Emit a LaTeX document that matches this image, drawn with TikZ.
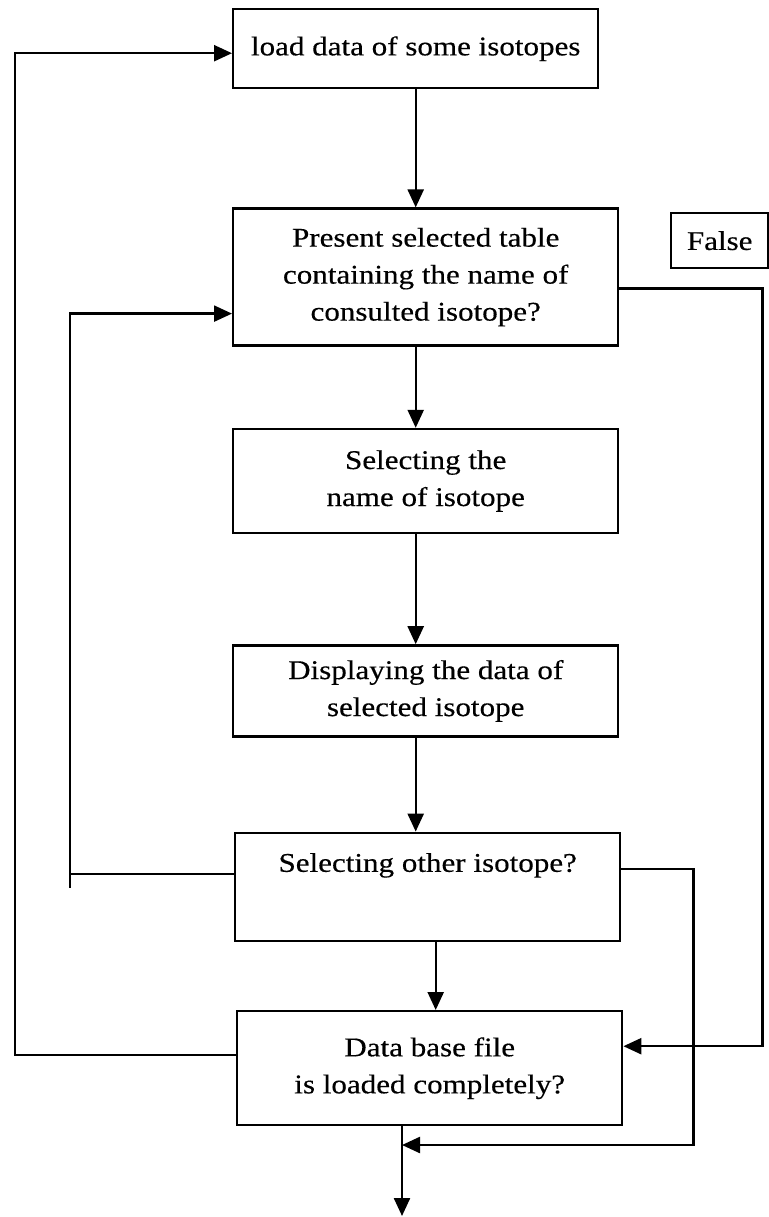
\documentclass[tikz,border=0pt]{standalone}
\usepackage{fontspec}
\setmainfont{Liberation Serif}[FakeStretch=1.15,FakeBold=0.4]
\usetikzlibrary{positioning,arrows.meta}

\begin{document}
\begin{tikzpicture}[x=0.5pt,y=-0.5pt,
        stage/.style={draw, line width=1.2pt, minimum width=192.5pt, align=center,
          inner sep=2pt, font=\fontsize{13.5}{18.5}\selectfont},
        flow/.style={line width=1.2pt, -{Triangle[length=9pt,width=8pt]}},
        wire/.style={line width=1.2pt}]
  \useasboundingbox (0,0) rectangle (769,1217);
  \node[stage, anchor=north west, minimum width=182.5pt, minimum height=39.5pt] (box1) at (232,8) {load data of some isotopes};
  \node[stage, below=59pt of box1.south west, anchor=north west, minimum height=68.5pt] (box2) {Present selected table\\containing the name of\\consulted isotope?};
  \node[stage, below=40.5pt of box2.south west, anchor=north west, minimum height=52pt] (box3) {Selecting the\\name of isotope};
  \node[stage, below=55pt of box3.south west, anchor=north west, minimum height=45.5pt] (box4) {Displaying the data of\\selected isotope};
  \node[stage, below=47pt of box4.south west, anchor=north west, xshift=1pt, inner ysep=0pt,
        text height=19.5pt, text depth=34.5pt] (box5) {Selecting other isotope?};
  \node[stage, below=34pt of box5.south west, anchor=north west, xshift=1pt, minimum height=57pt] (box6) {Data base file\\is loaded completely?};
  \node[draw, line width=1.2pt, anchor=north west, minimum width=48.5pt, minimum height=27.5pt,
        font=\fontsize{13.5}{18.5}\selectfont] (falsebox) at (670,212) {False};
  \coordinate (exit) at (402,1216);
  \coordinate (merge) at (402,1145);
  \draw[flow] (box1.south) -- (box1.south |- box2.north);
  \draw[flow] (box1.south |- box2.south) -- (box1.south |- box3.north);
  \draw[flow] (box1.south |- box3.south) -- (box1.south |- box4.north);
  \draw[flow] (box1.south |- box4.south) -- (box1.south |- box5.north);
  \draw[flow] ([xshift=4pt]box5.south) -- ([xshift=4pt]box5.south |- box6.north);
  \draw[flow] (exit |- box6.south) -- (exit);
  \draw[flow] ([yshift=6.5pt]box6.west) -- ++(-110.5pt,0) |- ([yshift=-2.25pt]box1.west);
  \draw[wire] ([yshift=6.5pt]box5.west) -- ++(-82pt,0) coordinate (turn);
  \draw[flow] ([yshift=-7pt]turn) |- ([yshift=-18.25pt]box2.west);
  \draw[flow] ([yshift=-5.75pt]box2.east) -- ++(71.5pt,0) |- ([yshift=11pt]box6.east);
  \draw[flow] ([yshift=9pt]box5.east) -- ++(36pt,0) |- (merge);
\end{tikzpicture}
\end{document}
